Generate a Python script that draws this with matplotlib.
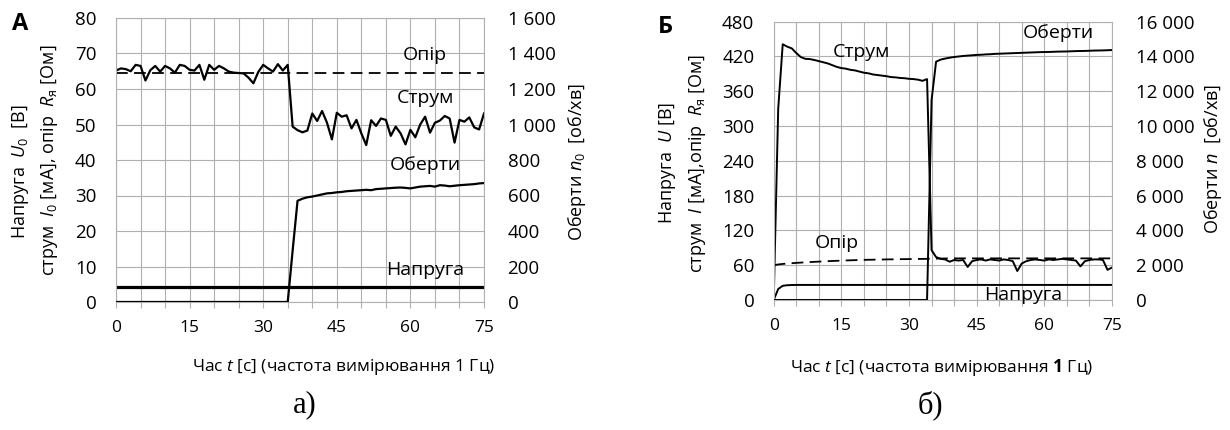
import numpy as np
import matplotlib
matplotlib.use("Agg")
import matplotlib.pyplot as plt
from matplotlib.ticker import MultipleLocator, FuncFormatter

# time axis, measurement at 1 Hz
time_s = np.arange(76)

# ---- panel A ----
current_a = [65.2, 65.8, 65.6, 65.0, 66.8, 66.5, 62.4, 65.3, 66.5, 64.9,
             66.5, 65.8, 64.6, 66.8, 66.5, 65.4, 65.2, 66.8, 62.6, 66.8,
             65.4, 66.5, 65.8, 64.9, 64.6, 64.5, 64.4, 63.2, 61.6, 64.8,
             66.8, 65.8, 64.9, 67.0, 65.2, 66.8, 49.4, 48.4, 47.8, 48.3,
             53.1, 51.0, 53.8, 50.5, 45.8, 53.3, 52.2, 52.6, 48.9, 51.3,
             47.5, 44.2, 51.2, 49.6, 51.7, 51.3, 46.8, 49.4, 47.5, 44.4,
             48.5, 46.4, 50.0, 52.2, 47.7, 50.5, 51.1, 52.4, 51.7, 44.9,
             51.3, 50.8, 52.0, 49.2, 48.6, 53.1]
resist_a = [64.5] * 76
voltage_a = [4.3] * 76
rpm_a = [0] * 36 + [290, 570, 582, 590, 594, 600, 606, 612, 614, 618,
                    620, 624, 626, 628, 630, 632, 630, 636, 638, 640,
                    642, 644, 645, 643, 640, 645, 650, 652, 654, 650,
                    658, 656, 652, 655, 658, 660, 662, 664, 668, 670]

# ---- panel B ----
current_b = [0, 330, 441, 437, 434, 426, 419, 416, 415.5, 414,
             412, 410, 408, 405, 402, 400, 399, 397, 396, 394,
             392, 391, 389, 388, 387, 386, 384.5, 384, 383, 382.5,
             381.5, 381, 380, 378, 381, 86, 74, 71, 70, 66,
             69, 68, 69, 57, 67, 69, 70, 68, 70, 69,
             68, 70, 69, 67, 50, 63, 67, 69, 70, 69,
             68, 70, 69, 70, 71, 70, 69, 68, 58, 67,
             69, 70, 70, 69, 52, 56]
resist_b = [60, 61.3, 62.2, 62.9, 63.5, 64, 64.5, 65, 65.4, 65.8,
            66.2, 66.6, 67, 67.3, 67.6, 67.9, 68.2, 68.5, 68.7, 69,
            69.2, 69.4, 69.5, 69.7, 69.8, 70, 70.1, 70.3, 70.4, 70.5,
            70.6, 70.7, 70.8, 70.9, 71, 71.2, 71.4, 71.5, 71.6, 71.7] + [71.8] * 36
voltage_b = [0, 19, 24.5, 25.5, 25.8] + [26] * 71
rpm_b = [0] * 35 + [11500, 13700, 13820, 13880, 13930, 13970, 14000, 14030, 14050, 14070,
                    14090, 14100, 14120, 14130, 14150, 14160, 14170, 14180, 14190, 14200,
                    14210, 14220, 14230, 14240, 14250, 14255, 14260, 14270, 14280, 14285,
                    14290, 14300, 14310, 14315, 14320, 14330, 14340, 14345, 14350, 14360,
                    14370]

x_ticks = [0, 15, 30, 45, 60, 75]

plt.rcParams['font.family'] = ['Open Sans', 'DejaVu Sans']
plt.rcParams['mathtext.fontset'] = 'custom'
plt.rcParams['mathtext.rm'] = 'Open Sans'
plt.rcParams['mathtext.it'] = 'Open Sans:italic'
plt.rcParams['mathtext.bf'] = 'Open Sans:bold'

W, H = 1230, 430
GRID = '#b0b0b0'


def thousands(v, pos):
    return f"{int(v):,}".replace(",", " ")


def setup_axes(ax, ymax, ystep):
    ax.set_xlim(0, 75)
    ax.set_ylim(0, ymax)
    ax.xaxis.set_major_locator(MultipleLocator(5))
    ax.xaxis.set_major_formatter(FuncFormatter(lambda v, p: f"{int(v)}" if int(v) in x_ticks else ""))
    ax.yaxis.set_major_locator(MultipleLocator(ystep))
    ax.grid(True, color=GRID, linewidth=0.8)
    ax.set_axisbelow(True)
    ax.tick_params(axis='x', length=4, color=GRID, labelsize=12.5, pad=9)
    ax.tick_params(axis='y', length=0, labelsize=13.5, pad=14)
    for s in ax.spines.values():
        s.set_color(GRID)
        s.set_linewidth(0.8)


fig = plt.figure(figsize=(12.3, 4.3), dpi=100)

# ---------------- panel A ----------------
ax1 = fig.add_axes([116 / W, 1 - 302 / H, 368 / W, 284 / H])
setup_axes(ax1, 80, 10)
ax1.plot(time_s, resist_a, color='black', lw=1.3, dashes=(6.5, 3.5))
ax1.plot(time_s, current_a, color='black', lw=1.6)
ax1.plot(time_s, voltage_a, color='black', lw=2.3)
ax2 = ax1.twinx()
ax2.set_ylim(0, 1600)
ax2.yaxis.set_major_locator(MultipleLocator(200))
ax2.yaxis.set_major_formatter(FuncFormatter(thousands))
ax2.tick_params(axis='y', length=0, labelsize=13.5, pad=17)
for s in ax2.spines.values():
    s.set_visible(False)
ax2.plot(time_s, rpm_a, color='black', lw=1.6)

ax1.text(63, 69.6, "Опір", ha='center', va='center', fontsize=14)
ax1.text(63, 57.4, "Струм", ha='center', va='center', fontsize=14)
ax1.text(63, 38.6, "Оберти", ha='center', va='center', fontsize=14)
ax1.text(63, 9.0, "Напруга", ha='center', va='center', fontsize=14)

fig.text(344 / W, 1 - 367 / H, "Час $t$ [с] (частота вимірювання 1 Гц)",
         ha='center', va='center', fontsize=12.5)
fig.text(21 / W, 1 - 172 / H, "Напруга  $U_0$  [В]", rotation=90,
         ha='center', va='center', fontsize=13)
fig.text(50 / W, 1 - 160 / H, "струм  $I_0$ [мА], опір  $R_\\mathrm{я}$ [Ом]", rotation=90,
         ha='center', va='center', fontsize=13)
fig.text(577 / W, 1 - 162 / H, "Оберти $n_0$  [об/хв]", rotation=90,
         ha='center', va='center', fontsize=13)
fig.text(20 / W, 1 - 24 / H, "А", ha='center', va='center', fontsize=17, fontweight='bold')
fig.text(305 / W, 1 - 405 / H, "а)", ha='center', va='center', fontsize=22,
         family='Liberation Serif')

# ---------------- panel B ----------------
ax3 = fig.add_axes([773.7 / W, 1 - 300 / H, 338.3 / W, 278.3 / H])
setup_axes(ax3, 480, 60)
ax3.plot(time_s, resist_b, color='black', lw=1.3, dashes=(6.5, 3.5))
ax3.plot(time_s, current_b, color='black', lw=1.4)
ax3.plot(time_s, voltage_b, color='black', lw=1.4)
ax4 = ax3.twinx()
ax4.set_ylim(0, 16000)
ax4.yaxis.set_major_locator(MultipleLocator(2000))
ax4.yaxis.set_major_formatter(FuncFormatter(thousands))
ax4.tick_params(axis='y', length=0, labelsize=13.5, pad=17)
for s in ax4.spines.values():
    s.set_visible(False)
ax4.plot(time_s, rpm_b, color='black', lw=1.4)

ax3.text(19.4, 427, "Струм", ha='center', va='center', fontsize=14)
ax3.text(14, 98, "Опір", ha='center', va='center', fontsize=14)
ax3.text(63.2, 460, "Оберти", ha='center', va='center', fontsize=14)
ax3.text(55.2, 9, "Напруга", ha='center', va='center', fontsize=14)

fig.text(942 / W, 1 - 367 / H, "Час $t$ [с] (частота вимірювання $\\mathbf{1}$ Гц)",
         ha='center', va='center', fontsize=12.5)
fig.text(668 / W, 1 - 163 / H, "Напруга  $U$ [В]", rotation=90,
         ha='center', va='center', fontsize=13)
fig.text(698 / W, 1 - 163 / H, "струм  $I$ [мА],опір  $R_\\mathrm{я}$ [Ом]", rotation=90,
         ha='center', va='center', fontsize=13)
fig.text(1213 / W, 1 - 159 / H, "Оберти $n$  [об/хв]", rotation=90,
         ha='center', va='center', fontsize=13)
fig.text(665 / W, 1 - 27 / H, "Б", ha='center', va='center', fontsize=17, fontweight='bold')
fig.text(930 / W, 1 - 405 / H, "б)", ha='center', va='center', fontsize=22,
         family='Liberation Serif')

fig.savefig("out.png", dpi=100)
